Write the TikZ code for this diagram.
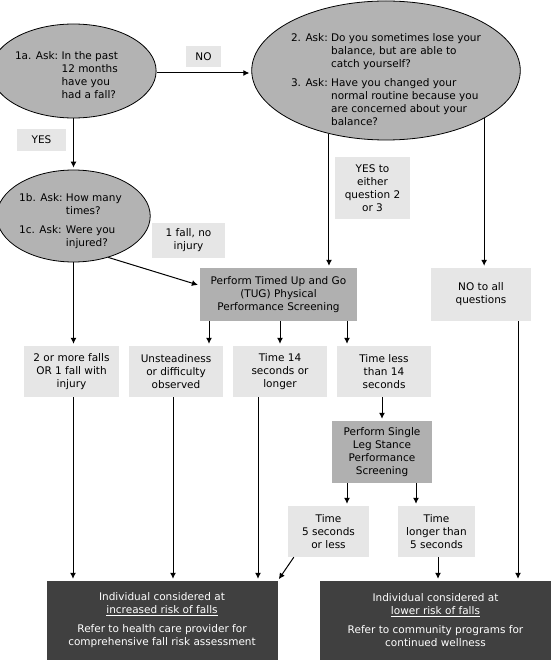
\documentclass[tikz,border=0pt]{standalone}
\usepackage{fontspec}
\setmainfont{DejaVu Sans}
\usetikzlibrary{shapes.geometric,arrows.meta}

\definecolor{askfill}{HTML}{B3B3B3}
\definecolor{answerfill}{HTML}{E6E6E6}
\definecolor{screenfill}{HTML}{B0B0B0}
\definecolor{riskfill}{HTML}{404040}

\begin{document}
\begin{tikzpicture}[x=1pt,y=-1pt,>={Latex[length=6pt,width=6pt]},
    font=\fontsize{10.5}{13}\selectfont,
    ask/.style={ellipse, draw=black, line width=0.8pt, fill=askfill, inner sep=0pt},
    answer/.style={fill=answerfill, align=center, inner sep=0pt},
    screen/.style={fill=screenfill, align=center, inner sep=0pt},
    risk/.style={fill=riskfill, text=white, align=center, inner sep=0pt},
    flow/.style={line width=1pt, ->, shorten >=2pt}]

    \useasboundingbox (0,0) rectangle (551,660);

    % questions
    \node[ask, minimum width=145pt, minimum height=94pt] at (73.5,71) (q1a)
        {\raisebox{-5pt}[\height][\depth]{\begin{tabular}{@{}l@{\ }l@{}}
            1a. Ask: & In the past\\
                     & 12 months\\
                     & have you\\
                     & had a fall?
         \end{tabular}}\hspace*{14pt}};
    \node[ask, minimum width=145pt, minimum height=92pt] at (73.5,216) (q1b)
        {\raisebox{-5pt}[\height][\depth]{\begin{tabular}{@{}l@{\ }l@{}}
            1b. Ask: & How many\\
                     & times?\\[6pt]
            1c. Ask: & Were you\\
                     & injured?
         \end{tabular}}\hspace*{6pt}};
    \node[ask, minimum width=256pt, minimum height=139pt] at (386,70.5) (q23)
        {\raisebox{-10pt}[\height][\depth]{\begin{tabular}{@{}l@{\ }l@{}}
            2. Ask: & Do you sometimes lose your\\
                    & balance, but are able to\\
                    & catch yourself?\\[6pt]
            3. Ask: & Have you changed your\\
                    & normal routine because you\\
                    & are concerned about your\\
                    & balance?
         \end{tabular}}};

    % answers to the questions
    \node[answer, minimum width=35pt, minimum height=21pt] at (203.5,56.5) (no) {NO};
    \node[answer, minimum width=49pt, minimum height=22pt] at (41.5,140) (yes) {YES};
    \node[answer, minimum width=73pt, minimum height=35pt] at (188.5,240.5) (onefall) {1 fall, no\\injury};
    \node[answer, minimum width=75pt, minimum height=62pt] at (372.5,188) (yeseither) {YES to\\either\\question 2\\or 3};
    \node[answer, minimum width=100pt, minimum height=53pt] at (481,294.5) (noall) {NO to all\\questions};

    % screenings
    \node[screen, minimum width=157pt, minimum height=53pt] at (278.5,294.5) (tug)
        {Perform Timed Up and Go\\(TUG) Physical\\Performance Screening};
    \node[screen, minimum width=100pt, minimum height=62pt] at (382,452) (sls)
        {Perform Single\\Leg Stance\\Performance\\Screening};

    % outcomes
    \node[answer, minimum width=95pt, minimum height=51pt] at (71.5,371.5) (twofalls) {2 or more falls\\OR 1 fall with\\injury};
    \node[answer, minimum width=94pt, minimum height=51pt] at (176,371.5) (unsteady) {Unsteadiness\\or difficulty\\observed};
    \node[answer, minimum width=94pt, minimum height=51pt] at (280,371.5) (slowtug) {Time 14\\seconds or\\longer};
    \node[answer, minimum width=94pt, minimum height=51pt] at (384,371.5) (fasttug) {Time less\\than 14\\seconds};
    \node[answer, minimum width=81pt, minimum height=51pt] at (328.5,531.5) (shortstance) {Time\\5 seconds\\or less};
    \node[answer, minimum width=77pt, minimum height=51pt] at (436.5,531.5) (longstance) {Time\\longer than\\5 seconds};

    \node[risk, minimum width=231pt, minimum height=79pt] at (162,620.5) (highrisk)
        {Individual considered at\\\underline{increased risk of falls}\\[6pt]
         Refer to health care provider for\\comprehensive fall risk assessment};
    \node[risk, minimum width=231pt, minimum height=79pt] at (435.5,620.5) (lowrisk)
        {Individual considered at\\\underline{lower risk of falls}\\[6pt]
         Refer to community programs for\\continued wellness};

    % connectors
    \draw[flow] (q1a.east |- 0,73) -- (q23.west |- 0,73);
    \draw[flow] (q1a.south) -- (q1b.north);
    \draw[flow] (q1b.south) -- (q1b.south |- twofalls.north);
    \draw[flow] (q1b.-50) -- ([yshift=9pt]tug.west);
    \draw[flow] (q23.-132.5) -- (q23.-132.5 |- tug.north);
    \draw[flow] (q23.-26) -- (q23.-26 |- noall.north);

    \draw[flow] ([xshift=-69.5pt]tug.south) -- ([xshift=-69.5pt]tug.south |- unsteady.north);
    \draw[flow] ([xshift=1.5pt]tug.south) -- ([xshift=1.5pt]tug.south |- slowtug.north);
    \draw[flow] ([xshift=68.5pt]tug.south) -- ([xshift=68.5pt]tug.south |- fasttug.north);

    \draw[flow] ([xshift=1.5pt]twofalls.south) -- ([xshift=1.5pt]twofalls.south |- highrisk.north);
    \draw[flow] ([xshift=-3pt]unsteady.south) -- ([xshift=-3pt]unsteady.south |- highrisk.north);
    \draw[flow] ([xshift=-22pt]slowtug.south) -- ([xshift=-22pt]slowtug.south |- highrisk.north);

    \draw[flow] (sls.north |- fasttug.south) -- (sls.north);
    \draw[flow] ([xshift=-35pt]sls.south) -- ([xshift=-35pt]sls.south |- shortstance.north);
    \draw[flow] ([xshift=34pt]sls.south) -- ([xshift=34pt]sls.south |- longstance.north);

    \draw[flow] ([xshift=6pt]shortstance.south west) -- (highrisk.north east);
    \draw[flow] ([xshift=1.5pt]longstance.south) -- ([xshift=1.5pt]longstance.south |- lowrisk.north);
    \draw[flow] ([xshift=37pt]noall.south) -- ([xshift=37pt]noall.south |- lowrisk.north);
\end{tikzpicture}
\end{document}
